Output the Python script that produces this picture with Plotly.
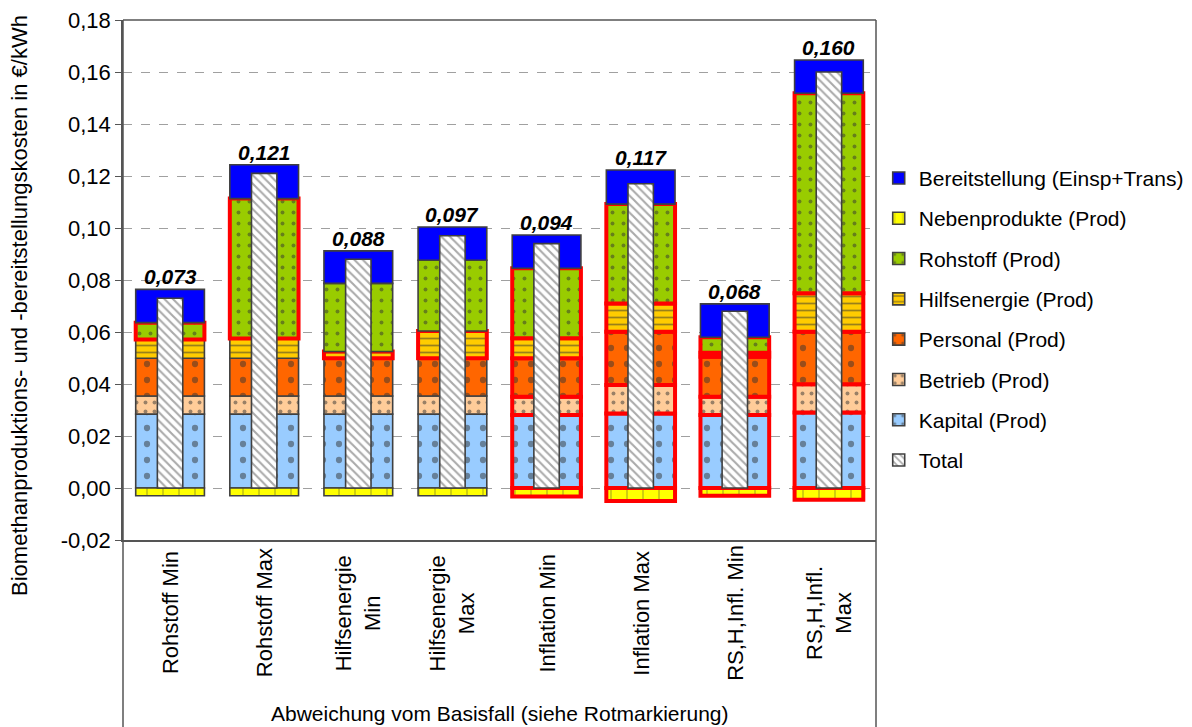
import plotly.graph_objects as go

categories = ["Rohstoff Min", "Rohstoff Max", "Hilfsenergie<br>Min", "Hilfsenergie<br>Max",
              "Inflation Min", "Inflation Max", "RS,H,Infl. Min", "RS,H,Infl.<br>Max"]

kapital = [0.0284, 0.0284, 0.0284, 0.0284, 0.0281, 0.0287, 0.0281, 0.0290]
betrieb = [0.0070, 0.0070, 0.0070, 0.0070, 0.0070, 0.0109, 0.0070, 0.0109]
personal = [0.0145, 0.0145, 0.0145, 0.0145, 0.0148, 0.0205, 0.0154, 0.0202]
hilfsenergie = [0.0072, 0.0076, 0.0026, 0.0105, 0.0077, 0.0109, 0.0015, 0.0148]
rohstoff = [0.0065, 0.0538, 0.0262, 0.0272, 0.0269, 0.0382, 0.0060, 0.0769]
nebenprodukte = [-0.0030, -0.0030, -0.0030, -0.0030, -0.0033, -0.0050, -0.0030, -0.0045]
bereitstellung = [0.0128, 0.0130, 0.0125, 0.0128, 0.0128, 0.0131, 0.0128, 0.0128]
total = [0.073, 0.121, 0.088, 0.097, 0.094, 0.117, 0.068, 0.160]

y_ticks = [-0.02, 0.00, 0.02, 0.04, 0.06, 0.08, 0.10, 0.12, 0.14, 0.16, 0.18]
y_tick_labels = ["-0,02", "0,00", "0,02", "0,04", "0,06", "0,08", "0,10", "0,12", "0,14", "0,16", "0,18"]

# components deviating from the base case (red marking) per scenario
highlighted = [
    ["Rohstoff"],
    ["Rohstoff"],
    ["Hilfsenergie"],
    ["Hilfsenergie"],
    ["Kapital", "Betrieb", "Personal", "Hilfsenergie", "Rohstoff", "Nebenprodukte"],
    ["Kapital", "Betrieb", "Personal", "Hilfsenergie", "Rohstoff", "Nebenprodukte"],
    ["Kapital", "Betrieb", "Personal", "Hilfsenergie", "Rohstoff", "Nebenprodukte"],
    ["Kapital", "Betrieb", "Personal", "Hilfsenergie", "Rohstoff", "Nebenprodukte"],
]

FONT = "Liberation Sans, Arial, sans-serif"
FS = 21
EDGE = "#404040"
RED = "#FF0000"

series = [
    ("Kapital", "Kapital (Prod)", kapital, "#99CCFF", ".", 16, 0.12),
    ("Betrieb", "Betrieb (Prod)", betrieb, "#FFCC99", ".", 9, 0.15),
    ("Personal", "Personal (Prod)", personal, "#FF6600", ".", 16, 0.12),
    ("Hilfsenergie", "Hilfsenergie (Prod)", hilfsenergie, "#FFCC00", "-", 7, 0.25),
    ("Rohstoff", "Rohstoff (Prod)", rohstoff, "#99CC00", ".", 11, 0.1),
    ("Nebenprodukte", "Nebenprodukte (Prod)", nebenprodukte, "#FFFF00", "|", 16, 0.06),
    ("Bereitstellung", "Bereitstellung (Einsp+Trans)", bereitstellung, "#0000FF", "", 8, 0.2),
]

fig = go.Figure()
n = len(series)
for i, (key, name, vals, color, shape, size, sol) in enumerate(series):
    lc = [RED if key in highlighted[j] else EDGE for j in range(len(categories))]
    lw = [4 if key in highlighted[j] else 1.6 for j in range(len(categories))]
    pat = dict(shape=shape, fgcolor="#333333", bgcolor=color, size=size, solidity=sol)
    fig.add_trace(go.Bar(
        x=categories, y=vals, name=name, width=0.73,
        marker=dict(color=color, line=dict(color=lc, width=lw), pattern=pat),
        showlegend=False, hoverinfo="skip",
    ))
    # legend entry (neutral outline)
    fig.add_trace(go.Bar(
        x=[categories[0]], y=[None], name=name, width=0.73,
        marker=dict(color=color, line=dict(color=EDGE, width=1.6), pattern=pat),
        legendrank=n - i, legendgroup=key, hoverinfo="skip",
    ))

fig.add_trace(go.Bar(
    x=categories, y=total, name="Total", width=0.27, xaxis="x2",
    marker=dict(color="white", line=dict(color=EDGE, width=1.6),
                pattern=dict(shape="\\", fgcolor="#555555", bgcolor="white", size=6, solidity=0.35)),
    legendrank=n + 1, legendgroup="Total", hoverinfo="skip",
))

# total labels above the stacks
pos_top = [kapital[j] + betrieb[j] + personal[j] + hilfsenergie[j] + rohstoff[j] + bereitstellung[j]
           for j in range(len(categories))]
for j, c in enumerate(categories):
    fig.add_annotation(x=c, y=pos_top[j], xref="x", yref="y", yanchor="bottom", yshift=-1,
                       text=f"<b><i>{total[j]:.3f}</i></b>".replace(".", ","), showarrow=False,
                       font=dict(family=FONT, size=FS, color="black"))

# category labels (rotated, centered)
for c in categories:
    fig.add_annotation(x=c, y=-0.1404, xref="x", yref="paper", textangle=-90,
                       text=c, showarrow=False, align="center", yanchor="middle",
                       font=dict(family=FONT, size=22, color="black"))

fig.add_annotation(x=0.5, y=-0.3346, xref="paper", yref="paper", yanchor="middle",
                   text="Abweichung vom Basisfall (siehe Rotmarkierung)", showarrow=False,
                   font=dict(family=FONT, size=21, color="black"))
fig.add_annotation(x=-0.1368, y=0.452, xref="paper", yref="paper", textangle=-90,
                   xanchor="center", yanchor="middle",
                   text="Biomethanproduktions- und -bereitstellungskosten in €/kWh", showarrow=False,
                   font=dict(family=FONT, size=22, color="black"))

# frame lines
frame = dict(color="#555555", width=1.5)
fig.add_shape(type="line", xref="paper", yref="paper", x0=0, x1=0, y0=-0.37, y1=1, line=frame)
fig.add_shape(type="line", xref="paper", yref="paper", x0=1, x1=1, y0=-0.37, y1=1, line=frame)
fig.add_shape(type="line", xref="paper", yref="paper", x0=0, x1=1, y0=1, y1=1, line=frame)

fig.update_layout(
    width=1184, height=719,
    margin=dict(l=115, r=316, t=12, b=187, autoexpand=False),
    barmode="relative",
    separators=",.",
    plot_bgcolor="white", paper_bgcolor="white",
    font=dict(family=FONT, size=FS, color="black"),
    showlegend=True,
    legend=dict(x=1.0036, xanchor="left", y=0.735, yanchor="top",
                traceorder="grouped", tracegroupgap=10,
                font=dict(family=FONT, size=FS, color="black"),
                bgcolor="rgba(0,0,0,0)"),
    xaxis=dict(range=[-0.5, 7.5], showticklabels=False, showline=True, linecolor="#555555",
               linewidth=1.5, ticks="", showgrid=False, fixedrange=True, automargin=False),
    xaxis2=dict(range=[-0.5, 7.5], overlaying="x", visible=False, fixedrange=True),
    yaxis=dict(range=[-0.02, 0.18], tickvals=y_ticks, ticktext=y_tick_labels,
               ticks="outside", ticklen=6, automargin=False, ticklabeloverflow="allow",
               tickcolor="#555555", showline=True, linecolor="#555555", linewidth=1.5,
               showgrid=True, gridcolor="#A0A0A0", griddash="dash", gridwidth=1,
               zeroline=False, tickfont=dict(family=FONT, size=22, color="black")),
)

fig.write_html("out.html")
